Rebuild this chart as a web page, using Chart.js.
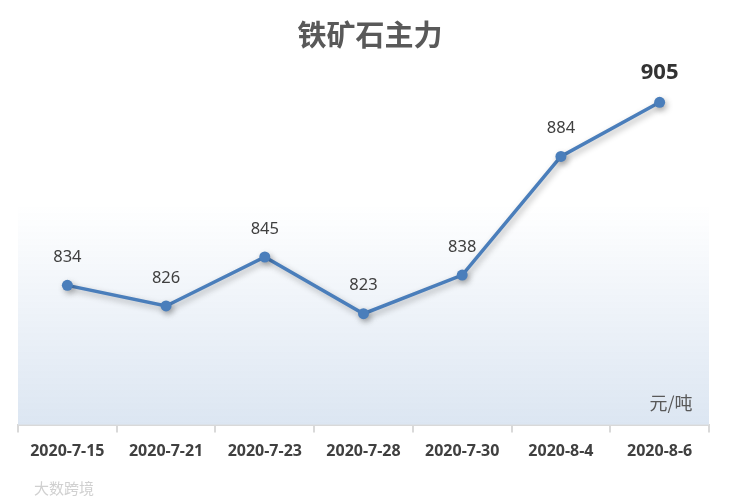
<!DOCTYPE html>
<html><head><meta charset="utf-8">
<script src="https://cdn.jsdelivr.net/npm/chart.js@4/dist/chart.umd.min.js"></script>
<style>html,body{margin:0;padding:0;background:#fff}#wrap{width:740px;height:501px}</style>
</head><body><div id="wrap"><canvas id="c" width="740" height="501"></canvas></div>
<script>
const categories = ['2020-7-15','2020-7-21','2020-7-23','2020-7-28','2020-7-30','2020-8-4','2020-8-6'];
const prices = [834, 826, 845, 823, 838, 884, 905];
const titleText = '铁矿石主力';
const unitText = '元/吨';
const watermark = '大数跨境';

const bgPlugin = {
  id: 'bg',
  beforeDatasetsDraw(chart) {
    const {ctx, chartArea: a} = chart;
    const top = a.top + (a.bottom - a.top) * 0.39;
    const g = ctx.createLinearGradient(0, top, 0, a.bottom);
    g.addColorStop(0, 'rgba(220,230,242,0)');
    g.addColorStop(1, 'rgba(220,230,242,1)');
    ctx.save();
    ctx.fillStyle = g;
    ctx.fillRect(a.left, top, a.right - a.left, a.bottom - top);
    ctx.restore();
  }
};
const shadowPlugin = {
  id: 'shadow',
  beforeDatasetDraw(chart) {
    const ctx = chart.ctx;
    ctx.save();
    ctx.shadowColor = 'rgba(0,0,0,0.3)';
    ctx.shadowBlur = 6;
    ctx.shadowOffsetX = 2;
    ctx.shadowOffsetY = 3;
  },
  afterDatasetDraw(chart) { chart.ctx.restore(); }
};
const labelPlugin = {
  id: 'labels',
  afterDatasetsDraw(chart) {
    const {ctx} = chart;
    const meta = chart.getDatasetMeta(0);
    ctx.save();
    ctx.textAlign = 'center';
    ctx.textBaseline = 'middle';
    meta.data.forEach((pt, i) => {
      const last = i === prices.length - 1;
      ctx.fillStyle = last ? '#333333' : '#404040';
      ctx.font = last ? 'bold 22px "Noto Sans", sans-serif' : '16.5px "Noto Sans", sans-serif';
      ctx.fillText(String(prices[i]), pt.x, pt.y - (last ? 30 : 28));
    });
    ctx.fillStyle = '#595959';
    ctx.font = 'bold 29px "Noto Sans CJK SC", sans-serif';
    ctx.fillText(titleText, 370, 35);
    ctx.font = '18px "Noto Sans CJK SC", sans-serif';
    ctx.fillText(unitText, 671, 403);
    ctx.fillStyle = '#d0d0d0';
    ctx.font = '15px "Noto Sans CJK SC", sans-serif';
    ctx.textAlign = 'left';
    ctx.fillText(watermark, 34, 488);
    ctx.restore();
  }
};

new Chart(document.getElementById('c'), {
  type: 'line',
  data: {
    labels: categories,
    datasets: [{
      data: prices,
      borderColor: '#4a7ebb',
      backgroundColor: '#4a7ebb',
      borderWidth: 3.5,
      pointRadius: 5.5,
      pointHoverRadius: 5.5,
      pointBackgroundColor: '#4a7ebb',
      pointBorderWidth: 0,
      tension: 0,
      fill: false
    }]
  },
  options: {
    responsive: false,
    animation: false,
    layout: { padding: { left: 18, right: 31, top: 63.6, bottom: 30.4 } },
    plugins: {
      legend: { display: false },
      tooltip: { enabled: false },
      title: { display: false }
    },
    scales: {
      x: {
        offset: true,
        grid: { offset: true, drawOnChartArea: false, drawTicks: true, tickLength: 8, color: '#d9d9d9', lineWidth: 2 },
        border: { display: true, color: '#d9d9d9', width: 2 },
        ticks: { color: '#404040', padding: 9.4, font: { family: '"Noto Sans", sans-serif', size: 16, weight: 'bold' }, maxRotation: 0 }
      },
      y: {
        display: false,
        min: 780,
        max: 920
      }
    }
  },
  plugins: [bgPlugin, shadowPlugin, labelPlugin]
});
</script></body></html>
